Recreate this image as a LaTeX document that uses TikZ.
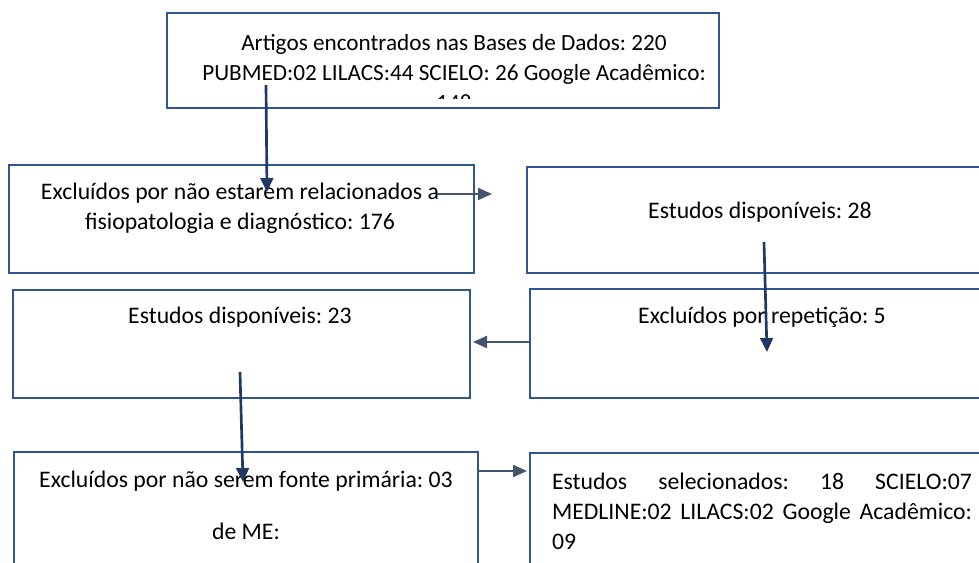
\documentclass[tikz,border=0pt]{standalone}
\usepackage{fontspec}
\setmainfont{Carlito}
\usetikzlibrary{shapes,arrows.meta}
\definecolor{boxblue}{RGB}{47,85,151}
\definecolor{navy}{RGB}{31,56,100}
\definecolor{slate}{RGB}{68,84,106}

\begin{document}
\frenchspacing
\begin{tikzpicture}[x=0.75pt,y=-0.75pt]
		\tikzstyle {box} = [draw=boxblue, line width=1.5pt, rectangle, inner sep=0pt]
		\tikzstyle {txt} = [font=\fontsize{17.8}{22.5}\selectfont, inner sep=0pt, align=center]
		\tikzstyle {down arrow} = [-{Triangle[length=10.5pt,width=9.5pt]}, draw=navy, fill=navy, line width=2pt]
		\tikzstyle {side arrow} = [-{Triangle[length=10.5pt,width=9pt]}, draw=slate, fill=slate, line width=1.6pt]

		\useasboundingbox (0,0) rectangle (979,563);
		\clip (0,0) rectangle (979,563);

		% boxes
		\node[box, minimum width=414pt, minimum height=71.25pt] (found) at (443,60.5) {};
		\node[box, minimum width=348.75pt, minimum height=81pt] (exclA) at (241.5,219) {};
		\node[box, minimum width=348.75pt, minimum height=79.5pt] (availA) at (759.5,220) {};
		\node[box, minimum width=348.75pt, minimum height=81.75pt] (exclB) at (762.5,343.5) {};
		\node[box, minimum width=342.75pt, minimum height=81pt] (availB) at (241.5,344) {};
		\node[box, minimum width=348pt, minimum height=96pt] (exclC) at (246,516) {};
		\node[box, minimum width=348.75pt, minimum height=95.25pt] (selected) at (762,516.5) {};

		% texts
		\begin{scope}
			\clip (found.north west) rectangle ([yshift=7.5pt]found.south east);
			\node[txt, font=\fontsize{17.4}{22.5}\selectfont] (foundtxt) at (454,72.5) {Artigos encontrados nas Bases de Dados: 220\\PUBMED:02 LILACS:44 SCIELO: 26 Google Acadêmico:\\148};
		\end{scope}
		\node[txt] (exclAtxt) at (240,208) {Excluídos por não estarem relacionados a\\fisiopatologia e diagnóstico: 176};
		\node[txt] (availAtxt) at (760,212) {Estudos disponíveis: 28};
		\node[txt] (exclBtxt) at (762,317) {Excluídos por repetição: 5};
		\node[txt] (availBtxt) at (240,317) {Estudos disponíveis: 23};
		\node[txt] (exclCtxt) at (246,505.5) {Excluídos por não serem fonte primária: 03\\[17pt]de ME:};
		\node[txt, text width=315pt, align=justify] (selectedtxt) at (762,511)
			{Estudos selecionados: 18 SCIELO:07\linebreak MEDLINE:02 LILACS:02 Google Acadêmico:\linebreak 09};

		% arrows
		\coordinate (a1s) at (266,85);
		\coordinate (a1e) at (267,192);
		\coordinate (a2s) at (437,194);
		\coordinate (a2e) at (492,194);
		\coordinate (a3s) at (764,242);
		\coordinate (a3e) at (767,352);
		\coordinate (a4s) at (530,342);
		\coordinate (a4e) at (473,342);
		\coordinate (a5s) at (240,372);
		\coordinate (a5e) at (243,482);
		\coordinate (a6s) at (478,471);
		\coordinate (a6e) at (527,471);

		\draw[down arrow] (a1s) -- (a1e);
		\draw[side arrow] (a2s) -- (a2e);
		\draw[down arrow] (a3s) -- (a3e);
		\draw[side arrow] (a4s) -- (a4e);
		\draw[down arrow] (a5s) -- (a5e);
		\draw[side arrow] (a6s) -- (a6e);
	\end{tikzpicture}
\end{document}
